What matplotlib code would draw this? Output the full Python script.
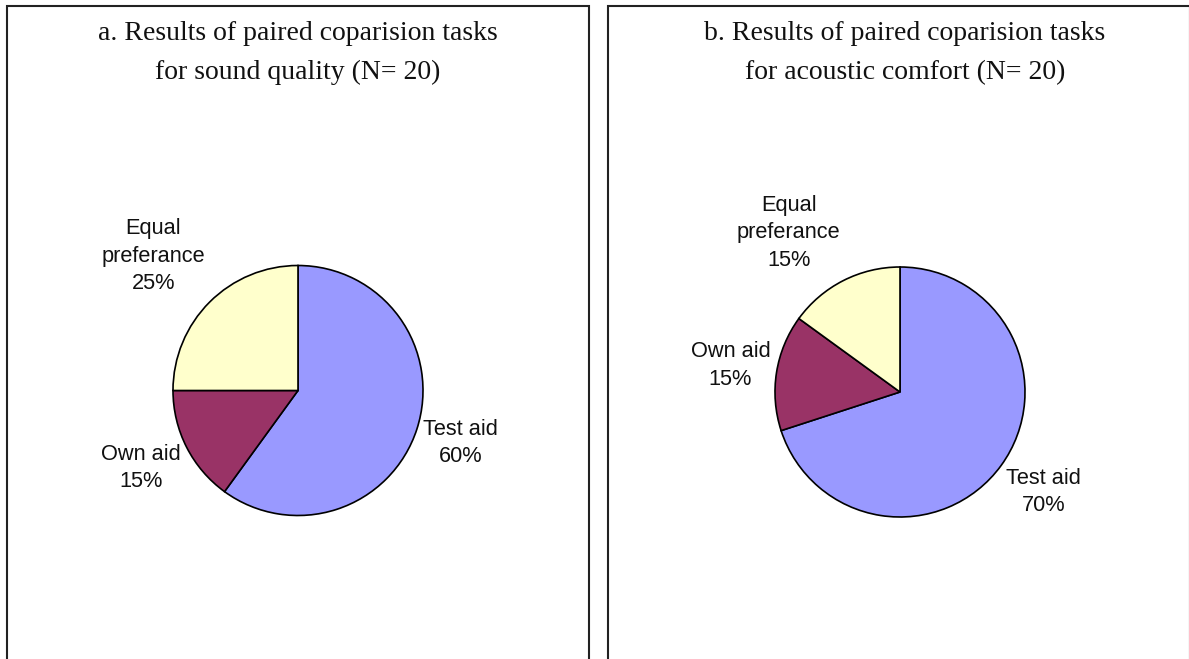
import matplotlib
matplotlib.use("Agg")
import matplotlib.pyplot as plt
from matplotlib.patches import Rectangle
import numpy as np

# data
labels = ["Test aid", "Own aid", "Equal\npreferance"]
sound_quality = [60, 15, 25]
acoustic_comfort = [70, 15, 15]
colors = ["#9999FF", "#993366", "#FFFFCC"]
titles = ["a. Results of paired coparision tasks\nfor sound quality (N= 20)",
          "b. Results of paired coparision tasks\nfor acoustic comfort (N= 20)"]

W, H = 1189, 659
fig = plt.figure(figsize=(W / 100, H / 100), dpi=100)


def px_box(cx, cy, r):
    # axes box in figure fraction from pixel centre / radius
    return [(cx - r) / W, (H - cy - r) / H, 2 * r / W, 2 * r / H]


def draw_pie(values, cx, cy, r):
    ax = fig.add_axes(px_box(cx, cy, r))
    wedges, _ = ax.pie(values, colors=colors, startangle=90, counterclock=False,
                       wedgeprops=dict(edgecolor="black", linewidth=1.2))
    ax.set_xlim(-1, 1)
    ax.set_ylim(-1, 1)
    ax.set_aspect("auto")
    ax.axis("off")
    # excel-like outside labels: box edge touches a point just outside the rim
    for w, lab, v in zip(wedges, labels, values):
        ang = np.deg2rad((w.theta1 + w.theta2) / 2)
        txt = lab + "\n" + str(v) + "%"
        nlines = txt.count("\n") + 1
        half_h = nlines * 10.1
        dy = -half_h * np.clip(1.4 * np.sin(ang), -1, 1)
        ax.annotate(txt, xy=(1.05 * np.cos(ang), 1.05 * np.sin(ang)),
                    xytext=(0, -dy), textcoords="offset points",
                    ha="left" if np.cos(ang) > 0 else "right", va="center",
                    multialignment="center", fontsize=15.7, annotation_clip=False,
                    family="Liberation Sans", linespacing=1.4, color="#111111")
    return ax


# panel borders
for x0, x1 in [(7, 589), (608, 1190)]:
    fig.patches.append(Rectangle((x0 / W, -0.05), (x1 - x0) / W, (H - 6) / H + 0.05,
                                 transform=fig.transFigure, fill=False,
                                 edgecolor="#222222", linewidth=1.5))

fig.text(298 / W, 1 - 53 / H, titles[0], ha="center", va="center", fontsize=20,
         family="Liberation Serif", linespacing=1.74, color="#111111")
fig.text(905 / W, 1 - 53 / H, titles[1], ha="center", va="center", fontsize=20,
         family="Liberation Serif", linespacing=1.74, color="#111111")

draw_pie(sound_quality, 298, 390.5, 125)
draw_pie(acoustic_comfort, 900, 392, 125)

fig.savefig("out.png", dpi=100, facecolor="white")
